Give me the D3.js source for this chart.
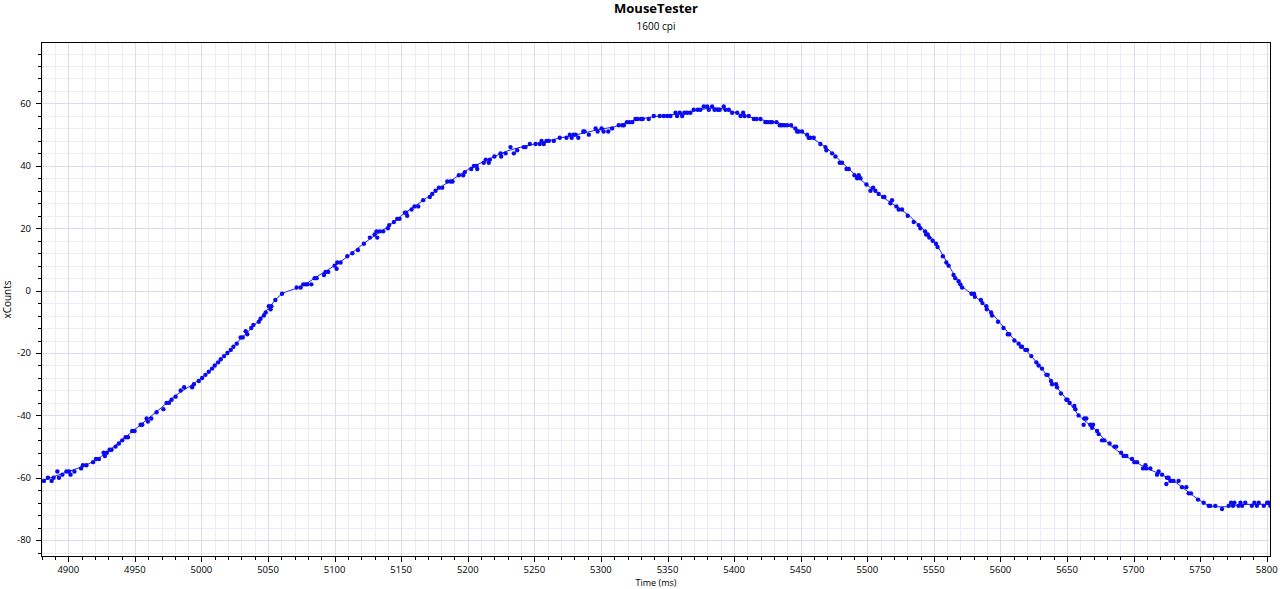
<!DOCTYPE html>
<html>
<head>
<meta charset="utf-8">
<script src="https://cdn.jsdelivr.net/npm/d3@7/dist/d3.min.js"></script>
<style>
  html, body { margin: 0; padding: 0; background: #fff; }
  svg { display: block; }
  text { font-family: "Open Sans", "Noto Sans", sans-serif; fill: #000; }
</style>
</head>
<body>
<svg id="chart" width="1280" height="589"></svg>
<script>
// ---------------- DATA ----------------
const titleText = "MouseTester";
const subtitleText = "1600 cpi";
const xLabel = "Time (ms)";
const yLabel = "xCounts";

const xTicks = [4900, 4950, 5000, 5050, 5100, 5150, 5200, 5250, 5300, 5350, 5400, 5450, 5500, 5550, 5600, 5650, 5700, 5750, 5800];
const yTicks = [-80, -60, -40, -20, 0, 20, 40, 60];

// raw report points: time (ms) and xCounts
const pointTimes = [
  4881.7, 4884.7, 4887.5, 4889, 4891.8, 4893, 4895.6, 4898.6, 4900.6, 4901.7, 4904.6, 4909.6, 4911, 4913.6, 4918.6, 4920.8, 4923, 4926.5, 4927.5, 4929, 4931, 4932.5,
  4935.5, 4938, 4940.5, 4943, 4944.8, 4948, 4949.8, 4954.3, 4955.6, 4958.8, 4959.8, 4962.3, 4966.3, 4971.4, 4973.8, 4975.6, 4977.6, 4980.6, 4984.4, 4987, 4993, 4994.3, 4998,
  5000.5, 5003, 5005.5, 5008, 5010, 5012.5, 5014.5, 5017, 5019.5, 5022, 5024, 5026.5, 5029.4, 5031, 5033.2, 5034.4, 5037.4, 5039, 5043.1, 5044.4, 5046.9, 5048.2, 5050.6, 5051.9, 5052.5, 5055.5, 5060.5,
  5071.5, 5074.5, 5076.5, 5078.2, 5079.5, 5082.5, 5085, 5086.5, 5092, 5093.2, 5095.2, 5100, 5101.5, 5102, 5104.5, 5109.5, 5113.3, 5117.5, 5122, 5126.5, 5130, 5131.5, 5132, 5134, 5136.5, 5140, 5141, 5144.5, 5147, 5148.8, 5152.8, 5153.8, 5154.5, 5157.8, 5160, 5162.8, 5166.5, 5171.5, 5173.3, 5175.8, 5178.3,
  5180.8, 5184.6, 5187.1, 5188.6, 5193.3, 5196.6, 5197.8, 5202.6, 5204.6, 5206.6, 5207.1, 5212, 5213.5, 5215.8, 5216.6, 5220, 5224.6, 5225.1, 5228.4, 5232.1, 5234.6, 5237.1, 5242, 5243.4, 5246.6, 5250.9, 5254.1, 5255.4, 5257.1, 5259.1, 5260.9, 5264.6, 5269.1, 5274.1, 5276.6, 5278, 5279.5, 5281, 5283, 5286.7, 5287.7, 5290.9,
  5296, 5297.5, 5300.5, 5302, 5305.5, 5308.4, 5313.4, 5316, 5317.2, 5319.5, 5321.5, 5323.5, 5325.9, 5327.7, 5330.2, 5331.4, 5335.9,
  5339.7, 5344.2, 5347.2, 5349.7, 5352.2, 5356, 5357.2, 5359.2, 5361, 5362.7, 5364.8, 5367.2, 5369.7, 5372.7, 5374.7, 5377.2, 5379.8, 5381, 5383.5, 5385.3, 5387.7, 5389.2, 5392.2, 5393.5, 5396, 5398.5,
  5402.3, 5404.8, 5406.8, 5407.8, 5411, 5414.8, 5416.8, 5419.8, 5423.5, 5425.3, 5427.3, 5428.5, 5431.8, 5434.3, 5436, 5437.8, 5439.8, 5442.8, 5446, 5447.3,
  5448.5, 5451, 5454.8, 5456, 5457.3, 5459.8, 5464.8, 5468.6, 5469.3, 5473.6, 5476.1, 5479.3, 5481.1, 5484.4, 5486.1, 5490.4, 5492.4, 5493.6, 5494.9, 5499.4, 5502.4, 5504.4, 5506.1, 5508.6, 5511.9, 5512.9, 5517.4, 5518.6, 5521.9, 5523.6, 5526.1, 5530.4, 5534.9, 5538.6, 5539.9, 5543.4, 5544.2, 5545.4, 5546.6, 5549.1, 5551.6, 5552.8, 5556.8, 5559.4, 5561.1, 5564.8, 5566.1, 5568.6, 5569.9, 5571.2,
  5578.3, 5580.2, 5580.8, 5585.3, 5586.5, 5589.4, 5589.8, 5593, 5593.7, 5598.2, 5602.3, 5605.5, 5606.7, 5610.5, 5613.7, 5615.5, 5616.2, 5618.7, 5620, 5623.2, 5627, 5628.7, 5631.2, 5634.5, 5635.5, 5638, 5638.8, 5641.8, 5642.5, 5645.5, 5649.5, 5650.4, 5652, 5655.5, 5656.3, 5658.7, 5662.5, 5663, 5664.5, 5667.5, 5668.8, 5669.6, 5672.6, 5673.8,
  5676.3, 5678, 5682, 5685.6, 5687, 5690.6, 5692.5, 5694.6, 5698.8, 5700.6, 5702.6, 5707.1, 5708.9, 5709.6, 5712.6, 5717.6, 5718.8, 5721.4, 5724.6, 5725.1, 5726.3, 5727.6, 5730, 5733.8, 5736.4, 5739.6, 5741.4, 5743.1, 5748.4, 5752.6, 5756.4, 5757.6, 5761.4, 5766.4,
  5771.4, 5773.2, 5774.7, 5775.7, 5778.8, 5780.3, 5781.5, 5783.9, 5788.8, 5790.7, 5792.6, 5794, 5797.8, 5800.3, 5801.5, 5802.7
];
const pointCounts = [
  -61, -60, -61, -60, -58, -60, -59, -58, -58, -59, -58, -57, -56, -56, -55, -54, -54, -52, -53, -52, -51, -51,
  -50, -49, -48, -47, -47, -45, -45, -43, -43, -41, -42, -41, -39, -38, -36, -36, -35, -34, -32, -31, -31, -30, -29,
  -28, -27, -26, -25, -24, -23, -22, -21, -20, -19, -18, -17, -15, -15, -13, -14, -12, -11, -10, -9, -8, -7, -5, -6, -5, -3, -1,
  1, 1, 2, 2, 2, 2, 4, 4, 5, 6, 6, 8, 7, 9, 9, 11, 12, 13, 15, 17, 18, 19, 17, 19, 19, 20, 21, 22, 23, 23, 25, 25, 24, 26, 27, 27, 29, 30, 31, 32, 33,
  33, 35, 35, 35, 37, 37, 38, 39, 40, 40, 39, 41, 42, 41, 42, 43, 44, 43, 44, 46, 44, 45, 46, 46, 47, 47, 47, 48, 47, 48, 48, 48, 49, 49, 50, 49, 50, 50, 49, 51, 51, 50,
  52, 51, 52, 51, 51, 52, 53, 53, 53, 54, 54, 54, 55, 55, 55, 55, 55,
  56, 56, 56, 56, 56, 57, 56, 57, 56, 57, 57, 57, 58, 58, 58, 59, 59, 58, 59, 58, 58, 58, 59, 58, 58, 57,
  57, 56, 57, 56, 56, 55, 55, 55, 54, 54, 54, 54, 54, 53, 53, 53, 53, 53, 52, 51,
  51, 51, 50, 49, 49, 49, 47, 46, 45, 44, 43, 41, 41, 39, 39, 37, 36, 37, 36, 34, 32, 33, 32, 31, 30, 30, 28, 29, 27, 26, 26, 24, 22, 21, 20, 19, 18, 18, 17, 16, 15, 14, 11, 9, 8, 5, 4, 3, 2, 1,
  -1, -1, -2, -3, -4, -5, -6, -7, -8, -10, -12, -14, -14, -16, -17, -18, -18, -19, -19, -21, -23, -24, -25, -27, -27, -29, -30, -30, -31, -33, -35, -35, -36, -37, -38, -40, -43, -41, -41, -43, -44, -43, -45, -46,
  -48, -48, -49, -50, -50, -52, -53, -53, -54, -55, -55, -57, -56, -57, -57, -59, -58, -59, -62, -60, -60, -61, -61, -61, -63, -63, -65, -65, -67, -68, -69, -69, -69, -70,
  -69, -68, -69, -68, -69, -68, -69, -68, -69, -68, -69, -68, -69, -68, -68, -69
];

// smoothed line drawn under the points
const lineTimes = [4880, 4890, 4900, 4910, 4920, 4930, 4940, 4950, 4960, 4970, 4980, 4990, 5000, 5010, 5020, 5030, 5040, 5050, 5060, 5066, 5072, 5080, 5090, 5100, 5110, 5120, 5130, 5140, 5150, 5160, 5170, 5180, 5190, 5200, 5210, 5220, 5230, 5240, 5250, 5260, 5270, 5280, 5290, 5300, 5310, 5320, 5330, 5340, 5350, 5360, 5370, 5380, 5385, 5390, 5400, 5410, 5420, 5430, 5440, 5450, 5460, 5470, 5480, 5490, 5500, 5510, 5520, 5530, 5540, 5550, 5560, 5570, 5575, 5580, 5590, 5600, 5610, 5620, 5630, 5640, 5650, 5660, 5670, 5680, 5690, 5700, 5710, 5720, 5730, 5740, 5750, 5760, 5770, 5780, 5790, 5803];
const lineCounts = [-61, -59.5, -58, -56.5, -54.5, -51.5, -48, -44.5, -41, -37.5, -33.8, -31, -28, -24, -19.8, -15.2, -11, -5.8, -1.2, 0, 0.8, 2.6, 5.4, 8, 11, 14.5, 17.6, 20.5, 24, 27, 30, 33.3, 36, 38.8, 41, 43, 44.8, 46, 47, 48, 49, 49.8, 50.8, 51.8, 52.5, 54, 55, 55.8, 56.2, 56.8, 57.6, 58.4, 58.6, 58.4, 57.2, 55.8, 54.8, 54, 53, 51, 48.5, 45.5, 41.5, 37.5, 33.8, 30.5, 27.5, 24.5, 20.5, 16, 9, 2, 0, -1.5, -5.5, -10.5, -15.5, -19.5, -24.5, -29.8, -35, -40.5, -44, -48.5, -52, -54.5, -57, -58.8, -61, -64.2, -67.3, -69.3, -69.3, -68.6, -68.5, -68.5];

// ---------------- CHART ----------------
const plot = { left: 41, top: 42, right: 1271, bottom: 557 };
const svg = d3.select("#chart");

const x = d3.scaleLinear().domain([4879.5, 5803.2]).range([plot.left, plot.right]);
const y = d3.scaleLinear().domain([-85.4, 79.7]).range([plot.bottom, plot.top]);

const [x0, x1] = x.domain();
const [y0, y1] = y.domain();
const xMinor = d3.range(Math.ceil(x0 / 10) * 10, x1, 10);
const yMinor = d3.range(Math.ceil(y0 / 4) * 4, y1, 4);
const px = v => Math.round(v) + 0.5;

const grid = svg.append("g");
grid.selectAll(".vmin").data(xMinor.filter(d => d % 50 !== 0)).join("line")
  .attr("x1", d => px(x(d))).attr("x2", d => px(x(d)))
  .attr("y1", plot.top).attr("y2", plot.bottom)
  .attr("stroke", "#ececf6");
grid.selectAll(".hmin").data(yMinor.filter(d => d % 20 !== 0)).join("line")
  .attr("y1", d => px(y(d))).attr("y2", d => px(y(d)))
  .attr("x1", plot.left).attr("x2", plot.right)
  .attr("stroke", "#ececf6");
grid.selectAll(".vmaj").data(xTicks).join("line")
  .attr("x1", d => px(x(d))).attr("x2", d => px(x(d)))
  .attr("y1", plot.top).attr("y2", plot.bottom)
  .attr("stroke", "#dcdcf0");
grid.selectAll(".hmaj").data(yTicks).join("line")
  .attr("y1", d => px(y(d))).attr("y2", d => px(y(d)))
  .attr("x1", plot.left).attr("x2", plot.right)
  .attr("stroke", "#dcdcf0");

svg.append("clipPath").attr("id", "clip").append("rect")
  .attr("x", plot.left).attr("y", plot.top)
  .attr("width", plot.right - plot.left).attr("height", plot.bottom - plot.top);

const series = svg.append("g").attr("clip-path", "url(#clip)");

const lineData = lineTimes.map((t, i) => [t, lineCounts[i]]);
const lineGen = d3.line().x(d => x(d[0])).y(d => y(d[1])).curve(d3.curveMonotoneX);
series.append("path")
  .attr("fill", "none")
  .attr("stroke", "#1a1aee")
  .attr("stroke-width", 1)
  .attr("d", lineGen(lineData));

const pts = pointTimes.map((t, i) => [t, pointCounts[i]]);
series.selectAll("circle").data(pts).join("circle")
  .attr("cx", d => x(d[0])).attr("cy", d => y(d[1]))
  .attr("r", 2.2)
  .attr("fill", "#0a0af0");

// axes
const xAxis = svg.append("g").attr("transform", `translate(0,${plot.bottom})`);
xAxis.selectAll(".tmin").data(xMinor).join("line")
  .attr("x1", d => px(x(d))).attr("x2", d => px(x(d)))
  .attr("y1", 0).attr("y2", 3).attr("stroke", "#000");
xAxis.selectAll(".tmaj").data(xTicks).join("line")
  .attr("x1", d => px(x(d))).attr("x2", d => px(x(d)))
  .attr("y1", 0).attr("y2", 5).attr("stroke", "#000");
xAxis.selectAll("text").data(xTicks).join("text")
  .attr("x", d => x(d)).attr("y", 16)
  .attr("text-anchor", "middle")
  .attr("font-size", 9.5)
  .text(d => d);

const yAxis = svg.append("g").attr("transform", `translate(${plot.left},0)`);
yAxis.selectAll(".tmin").data(yMinor).join("line")
  .attr("y1", d => px(y(d))).attr("y2", d => px(y(d)))
  .attr("x1", 0).attr("x2", -3).attr("stroke", "#000");
yAxis.selectAll(".tmaj").data(yTicks).join("line")
  .attr("y1", d => px(y(d))).attr("y2", d => px(y(d)))
  .attr("x1", 0).attr("x2", -5).attr("stroke", "#000");
yAxis.selectAll("text").data(yTicks).join("text")
  .attr("x", -10).attr("y", d => y(d))
  .attr("dy", "0.35em")
  .attr("text-anchor", "end")
  .attr("font-size", 9.5)
  .text(d => d);

// frame
svg.append("rect")
  .attr("x", plot.left + 0.5).attr("y", plot.top + 0.5)
  .attr("width", plot.right - plot.left - 1).attr("height", plot.bottom - plot.top - 1)
  .attr("fill", "none").attr("stroke", "#000").attr("stroke-width", 1);

// titles
const cx = (plot.left + plot.right) / 2;
svg.append("text").attr("x", cx).attr("y", 13)
  .attr("text-anchor", "middle").attr("font-size", 13).attr("font-weight", "bold")
  .text(titleText);
svg.append("text").attr("x", cx).attr("y", 30)
  .attr("text-anchor", "middle").attr("font-size", 10)
  .text(subtitleText);
svg.append("text").attr("x", cx).attr("y", 586)
  .attr("text-anchor", "middle").attr("font-size", 9)
  .text(xLabel);
svg.append("text")
  .attr("transform", `translate(11,${(plot.top + plot.bottom) / 2}) rotate(-90)`)
  .attr("text-anchor", "middle").attr("font-size", 10)
  .text(yLabel);
</script>
</body>
</html>
